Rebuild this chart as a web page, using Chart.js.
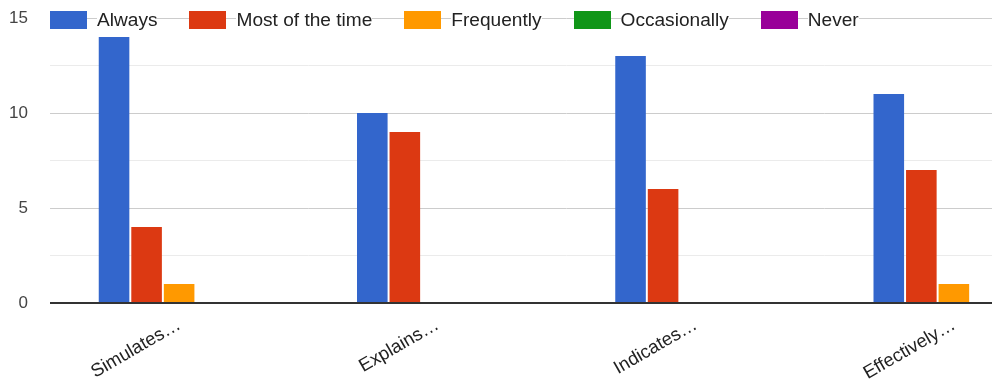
<!DOCTYPE html>
<html lang="en">
<head>
  <meta charset="UTF-8">
  <title>Responses</title>
  <script src="https://cdn.jsdelivr.net/npm/chart.js"></script>
  <style>
    body {
      margin: 0;
      padding: 0;
      background: #fff;
      overflow: hidden;
      font-family: Arial, "Liberation Sans", sans-serif;
    }
    .wrap {
      position: relative;
      width: 1100px;
      height: 380px;
    }
    #legend {
      position: absolute;
      top: 11px;
      left: 50px;
      display: flex;
      height: 18px;
      align-items: center;
    }
    .item {
      display: flex;
      align-items: center;
      margin-right: 32px;
    }
    .box {
      width: 37px;
      height: 18px;
    }
    .txt {
      margin-left: 10px;
      background: #fff;
      color: #222;
      font-size: 19.1px;
      line-height: 18px;
    }
  </style>
</head>
<body>
  <div class="wrap">
    <canvas id="chart" width="1100" height="380"></canvas>
    <div id="legend"></div>
  </div>

  <script>
    // data
    const categories = ['Simulates…', 'Explains…', 'Indicates…', 'Effectively…'];
    const seriesNames = ['Always', 'Most of the time', 'Frequently', 'Occasionally', 'Never'];
    const always = [14, 10, 13, 11];
    const mostOfTheTime = [4, 9, 6, 7];
    const frequently = [1, 0, 0, 1];
    const occasionally = [0, 0, 0, 0];
    const never = [0, 0, 0, 0];
    const yTicks = [0, 5, 10, 15];

    const colors = ['#3366cc', '#dc3912', '#ff9900', '#109618', '#990099'];
    const values = [always, mostOfTheTime, frequently, occasionally, never];

    // legend drawn over the top grid line, like the original
    const legend = document.getElementById('legend');
    seriesNames.forEach(function(name, i) {
      const item = document.createElement('div');
      item.className = 'item';
      item.innerHTML = '<span class="box" style="background:' + colors[i] + '"></span><span class="txt">' + name + '</span>';
      legend.appendChild(item);
    });

    const ctx = document.getElementById('chart').getContext('2d');
    new Chart(ctx, {
      type: 'bar',
      data: {
        labels: categories,
        datasets: seriesNames.map(function(name, i) {
          return {
            label: name,
            data: values[i],
            backgroundColor: colors[i],
            borderWidth: 0,
            categoryPercentage: 0.63,
            barPercentage: 0.94
          };
        })
      },
      options: {
        responsive: false,
        animation: false,
        layout: { autoPadding: false, padding: { top: 18, right: 17, bottom: 0, left: 0 } },
        plugins: {
          legend: { display: false },
          tooltip: { enabled: false }
        },
        scales: {
          x: {
            grid: { display: false },
            border: { display: false },
            ticks: {
              minRotation: 30,
              maxRotation: 30,
              padding: 3,
              color: '#222',
              font: { family: 'Arial, "Liberation Sans", sans-serif', size: 18.5 }
            },
            afterFit: function(scale) {
              scale.height = 77;
              scale.paddingTop = 0;
              scale.paddingBottom = 0;
            }
          },
          y: {
            min: 0,
            max: 15,
            border: { display: false },
            grid: {
              drawTicks: false,
              color: function(c) {
                if (c.tick.value === 0) return '#333';
                return yTicks.includes(c.tick.value) ? '#cccccc' : '#ebebeb';
              },
              lineWidth: function(c) { return c.tick.value === 0 ? 2 : 1; }
            },
            ticks: {
              stepSize: 2.5,
              padding: 22,
              color: '#444',
              font: { family: 'Arial, "Liberation Sans", sans-serif', size: 17 },
              callback: function(v) { return yTicks.includes(v) ? v : ''; }
            },
            afterFit: function(scale) {
              scale.width = 50;
              scale.paddingTop = 0;
              scale.paddingBottom = 0;
            }
          }
        }
      }
    });
  </script>
</body>
</html>
